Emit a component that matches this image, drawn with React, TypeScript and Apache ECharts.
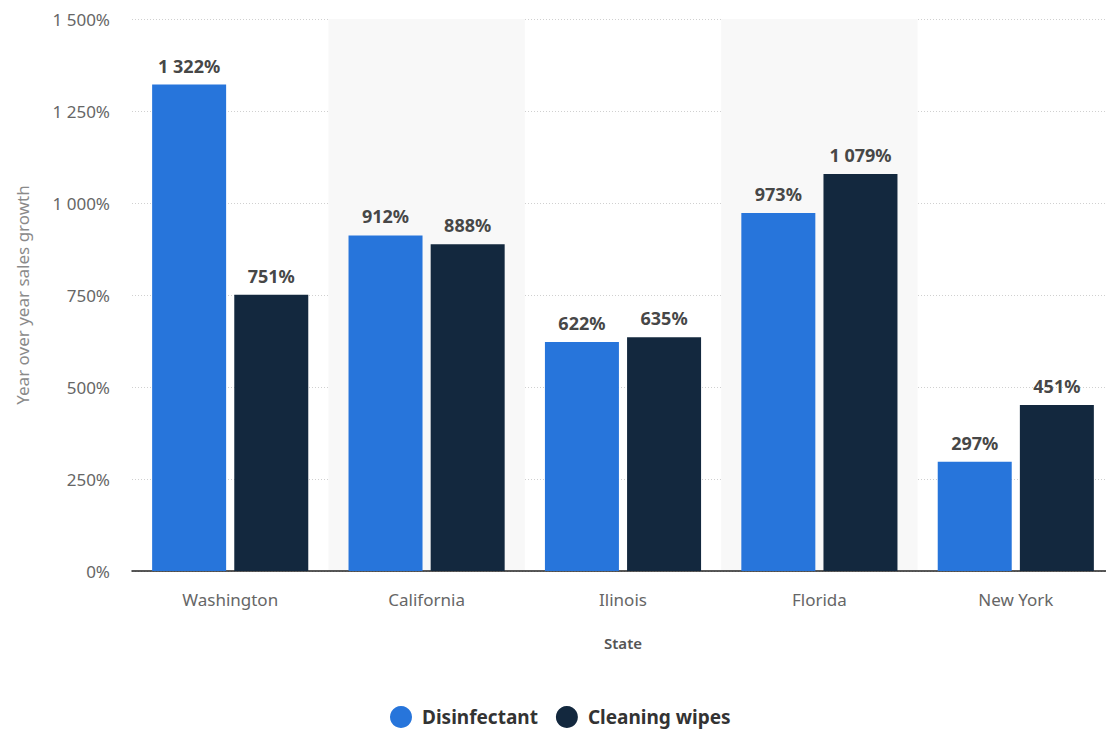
import React, { useEffect, useRef } from "react";
import * as echarts from "echarts";

const categories = ["Washington", "California", "Ilinois", "Florida", "New York"];
const disinfectant = [1322, 912, 622, 973, 297];
const cleaningWipes = [751, 888, 635, 1079, 451];
const seriesNames = ["Disinfectant", "Cleaning wipes"];

const fmt = (v: number) => String(v).replace(/\B(?=(\d{3})+(?!\d))/g, " ") + "%";

const FONT = "'Noto Sans', sans-serif";

export default function App() {
  const ref = useRef<HTMLDivElement>(null);
  useEffect(() => {
    if (!ref.current) return;
    const chart = echarts.init(ref.current, undefined, { renderer: "svg" });
    const labelCfg = {
      show: true,
      position: "top" as const,
      distance: 10,
      formatter: (p: any) => fmt(p.value),
      color: "#474747",
      fontWeight: "bold" as const,
      fontSize: 18,
      fontFamily: FONT,
    };
    chart.setOption({
      animation: false,
      backgroundColor: "#ffffff",
      textStyle: { fontFamily: FONT },
      grid: {
        left: 132,
        width: 982,
        top: 19,
        bottom: 159,
        containLabel: false,
        outerBoundsMode: "none",
      },
      legend: {
        top: 706,
        left: 390,
        padding: 0,
        icon: "circle",
        itemWidth: 22,
        itemHeight: 22,
        itemGap: 18,
        textStyle: {
          fontSize: 19,
          fontWeight: "bold",
          color: "#333",
          fontFamily: FONT,
          padding: [0, 0, 0, 5],
        },
        data: seriesNames,
      },
      xAxis: {
        type: "category",
        data: categories,
        name: "State",
        nameLocation: "middle",
        nameGap: 64,
        nameTextStyle: { fontSize: 15, fontWeight: 600, color: "#555", fontFamily: FONT },
        axisLine: { show: true, lineStyle: { color: "#222", width: 1.5 } },
        axisTick: { show: false },
        axisLabel: { margin: 20, fontSize: 17, color: "#666", fontFamily: FONT },
        splitArea: {
          show: true,
          areaStyle: { color: ["rgba(255,255,255,0)", "#f8f8f8"] },
        },
      },
      yAxis: {
        type: "value",
        min: 0,
        max: 1500,
        interval: 250,
        name: "Year over year sales growth",
        nameLocation: "middle",
        nameGap: 101,
        nameTextStyle: { fontSize: 17, color: "#8a8a8a", fontFamily: FONT },
        axisLine: { show: false },
        axisTick: { show: false },
        axisLabel: {
          margin: 22,
          fontSize: 17,
          color: "#666",
          fontFamily: FONT,
          formatter: (v: number) => fmt(v),
        },
        splitLine: { show: true, lineStyle: { color: "#d0d0d0", type: [1, 2], width: 1 } },
      },
      series: [
        {
          name: seriesNames[0],
          type: "bar",
          data: disinfectant,
          barWidth: 74,
          barGap: "11%",
          itemStyle: { color: "#2775db" },
          label: labelCfg,
        },
        {
          name: seriesNames[1],
          type: "bar",
          data: cleaningWipes,
          barWidth: 74,
          itemStyle: { color: "#13283e" },
          label: labelCfg,
        },
      ],
    });
    return () => chart.dispose();
  }, []);
  return (
    <div
      ref={ref}
      style={{ position: "fixed", left: 0, top: 0, width: 1106, height: 730, background: "#fff" }}
    />
  );
}
